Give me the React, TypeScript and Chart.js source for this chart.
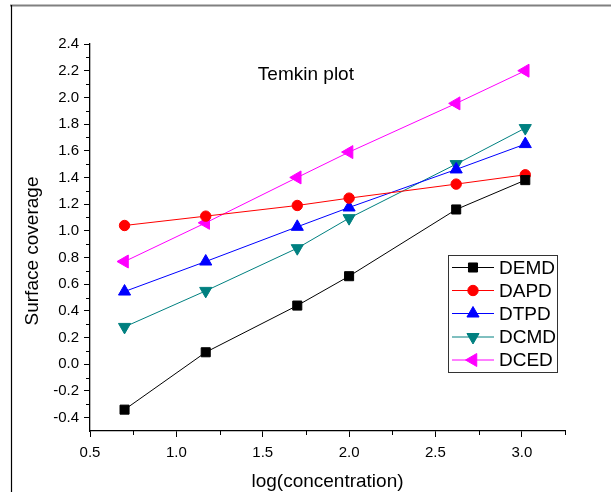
import React, { useEffect, useRef } from "react";
import { Chart, registerables } from "chart.js";
import { drawPoint } from "chart.js/helpers";

Chart.register(...registerables);

const xValues = [0.7, 1.17, 1.7, 2.0, 2.62, 3.02];
const demd = [-0.34, 0.09, 0.44, 0.66, 1.16, 1.38];
const dapd = [1.04, 1.11, 1.19, 1.245, 1.35, 1.42];
const dtpd = [0.545, 0.77, 1.03, 1.175, 1.46, 1.65];
const dcmd = [0.28, 0.55, 0.87, 1.095, 1.5, 1.77];
const dced = [0.77, 1.06, 1.4, 1.59, 1.955, 2.2];
const seriesNames = ["DEMD", "DAPD", "DTPD", "DCMD", "DCED"];
const xTicks = [0.5, 1.0, 1.5, 2.0, 2.5, 3.0];
const xMinorTicks = [0.75, 1.25, 1.75, 2.25, 2.75, 3.25];
const yTicks = [-0.4, -0.2, 0.0, 0.2, 0.4, 0.6, 0.8, 1.0, 1.2, 1.4, 1.6, 1.8, 2.0, 2.2, 2.4];
const yMinorTicks = [-0.3, -0.1, 0.1, 0.3, 0.5, 0.7, 0.9, 1.1, 1.3, 1.5, 1.7, 1.9, 2.1, 2.3];
const titleText = "Temkin plot";
const xTitle = "log(concentration)";
const yTitle = "Surface coverage";

const FONT = "Arial, 'Liberation Sans', sans-serif";

const styles = [
  { color: "#000000", pointStyle: "rect", radius: 6.4, rotation: 0 },
  { color: "#ff0000", pointStyle: "circle", radius: 5.2, rotation: 0 },
  { color: "#0000ff", pointStyle: "triangle", radius: 7, rotation: 0 },
  { color: "#008080", pointStyle: "triangle", radius: 7, rotation: 180 },
  { color: "#ff00ff", pointStyle: "triangle", radius: 7.5, rotation: 270 },
];

const seriesValues = [demd, dapd, dtpd, dcmd, dced];

const decorPlugin = {
  id: "decor",
  beforeDraw(chart: any) {
    const ctx = chart.ctx;
    ctx.save();
    ctx.fillStyle = "#ffffff";
    ctx.fillRect(0, 0, chart.width, chart.height);
    ctx.strokeStyle = "#808080";
    ctx.lineWidth = 2;
    ctx.beginPath();
    ctx.moveTo(10, 5.5);
    ctx.lineTo(chart.width, 5.5);
    ctx.stroke();
    ctx.strokeStyle = "#000000";
    ctx.lineWidth = 1.2;
    ctx.beginPath();
    ctx.moveTo(11.5, 5);
    ctx.lineTo(11.5, chart.height);
    ctx.stroke();
    ctx.restore();
  },
  afterDraw(chart: any) {
    const ctx = chart.ctx;
    const xs = chart.scales.x;
    const ys = chart.scales.y;
    const area = chart.chartArea;
    ctx.save();
    // minor ticks
    ctx.strokeStyle = "#000";
    ctx.lineWidth = 1;
    ctx.beginPath();
    for (const v of xMinorTicks) {
      const px = Math.round(xs.getPixelForValue(v)) + 0.5;
      ctx.moveTo(px, area.bottom);
      ctx.lineTo(px, area.bottom + 4);
    }
    for (const v of yMinorTicks) {
      const py = Math.round(ys.getPixelForValue(v)) + 0.5;
      ctx.moveTo(area.left, py);
      ctx.lineTo(area.left - 4, py);
    }
    ctx.stroke();

    // title inside plot
    ctx.fillStyle = "#000";
    ctx.font = `19px ${FONT}`;
    ctx.textAlign = "center";
    ctx.textBaseline = "middle";
    ctx.fillText(titleText, xs.getPixelForValue(1.75), ys.getPixelForValue(2.17));

    // axis titles
    ctx.font = `19px ${FONT}`;
    ctx.fillText(xTitle, (area.left + area.right) / 2, 482);
    ctx.save();
    ctx.translate(33, 251);
    ctx.rotate(-Math.PI / 2);
    ctx.font = `19px ${FONT}`;
    ctx.fillText(yTitle, 0, 0);
    ctx.restore();

    // legend
    const bx = 448.5, by = 255.5, bw = 109, bh = 117;
    ctx.strokeStyle = "#333";
    ctx.lineWidth = 1;
    ctx.fillStyle = "#fff";
    ctx.fillRect(bx, by, bw, bh);
    ctx.strokeRect(bx, by, bw, bh);
    const rowY = [267.5, 290.5, 313.5, 337, 360];
    seriesNames.forEach((name, i) => {
      const st = styles[i];
      const y = rowY[i];
      ctx.strokeStyle = st.color;
      ctx.lineWidth = 1;
      ctx.beginPath();
      ctx.moveTo(452, y);
      ctx.lineTo(494, y);
      ctx.stroke();
      ctx.fillStyle = st.color;
      ctx.strokeStyle = st.color;
      drawPoint(ctx, { pointStyle: st.pointStyle, radius: st.radius, rotation: st.rotation, borderWidth: 1 } as any, 473, y);
      ctx.fillStyle = "#000";
      ctx.font = `19px ${FONT}`;
      ctx.textAlign = "left";
      ctx.textBaseline = "middle";
      ctx.fillText(name, 499, y + 1);
    });
    ctx.restore();
  },
};

export default function App() {
  const ref = useRef<HTMLCanvasElement>(null);
  useEffect(() => {
    const datasets = seriesNames.map((name, i) => ({
      label: name,
      data: xValues.map((x, j) => ({ x, y: seriesValues[i][j] })),
      borderColor: styles[i].color,
      backgroundColor: styles[i].color,
      borderWidth: 1,
      pointStyle: styles[i].pointStyle as any,
      pointRadius: styles[i].radius,
      pointRotation: styles[i].rotation,
      pointBorderWidth: 1,
      tension: 0,
      showLine: true,
    }));
    const chart = new Chart(ref.current!, {
      type: "scatter",
      data: { datasets },
      plugins: [decorPlugin],
      options: {
        animation: false,
        responsive: false,
        devicePixelRatio: 1,
        layout: { padding: { left: 0, right: 46, top: 44, bottom: 0 } },
        plugins: { legend: { display: false }, tooltip: { enabled: false }, title: { display: false } },
        scales: {
          x: {
            type: "linear",
            min: 0.5,
            max: 3.25,
            afterBuildTicks: (s: any) => {
              s.ticks = xTicks.map((v) => ({ value: v }));
            },
            afterFit: (s: any) => {
              s.height = 61;
            },
            ticks: {
              callback: (v: any) => Number(v).toFixed(1),
              font: { family: FONT, size: 15 },
              color: "#000",
              padding: 7,
              maxRotation: 0,
              autoSkip: false,
            },
            grid: { drawOnChartArea: false, drawTicks: true, tickLength: 6, color: "#000", lineWidth: 1 },
            border: { color: "#000", width: 1.3 },
          },
          y: {
            type: "linear",
            min: -0.5,
            max: 2.4,
            afterBuildTicks: (s: any) => {
              s.ticks = yTicks.map((v) => ({ value: v }));
            },
            afterFit: (s: any) => {
              s.width = 90;
            },
            ticks: {
              callback: (v: any) => Number(v).toFixed(1),
              font: { family: FONT, size: 15 },
              color: "#000",
              padding: 5,
              autoSkip: false,
            },
            grid: { drawOnChartArea: false, drawTicks: true, tickLength: 6, color: "#000", lineWidth: 1 },
            border: { color: "#000", width: 1.3 },
          },
        },
      },
    });
    return () => chart.destroy();
  }, []);
  return (
    <div style={{ position: "fixed", left: 0, top: 0, width: 611, height: 492, background: "#fff" }}>
      <canvas ref={ref} width={611} height={492} style={{ display: "block", width: 611, height: 492 }} />
    </div>
  );
}
